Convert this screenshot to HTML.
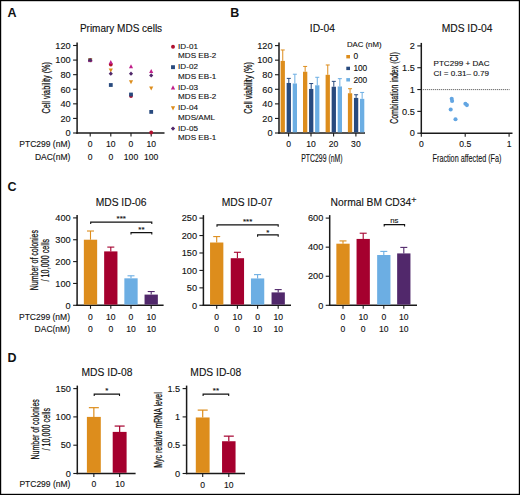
<!DOCTYPE html>
<html><head><meta charset="utf-8"><style>
html,body{margin:0;padding:0;background:#fff;}
svg{display:block;font-family:"Liberation Sans", sans-serif;}
</style></head><body>
<svg width="520" height="495" viewBox="0 0 520 495">
<rect x="0.6" y="0.6" width="518.8" height="493.8" fill="#fff" stroke="#000" stroke-width="1.2"/>
<text x="7.6" y="16.6" font-size="12.5" text-anchor="start" font-weight="bold" fill="#111" stroke="#111" stroke-width="0" >A</text>
<text x="230.2" y="17.0" font-size="12.5" text-anchor="start" font-weight="bold" fill="#111" stroke="#111" stroke-width="0" >B</text>
<text x="7.4" y="191.2" font-size="12.5" text-anchor="start" font-weight="bold" fill="#111" stroke="#111" stroke-width="0" >C</text>
<text x="7.6" y="361.5" font-size="12.5" text-anchor="start" font-weight="bold" fill="#111" stroke="#111" stroke-width="0" >D</text>
<text x="121" y="32.2" font-size="10" text-anchor="middle" font-weight="normal" fill="#111" stroke="#111" stroke-width="0.12" >Primary MDS cells</text>
<line x1="77.1" y1="42.4" x2="77.1" y2="133.7" stroke="#1a1a1a" stroke-width="1.5" />
<line x1="73.1" y1="133.0" x2="77.1" y2="133.0" stroke="#1a1a1a" stroke-width="1.1" />
<text x="70.69999999999999" y="136.266" font-size="9.2" text-anchor="end" font-weight="normal" fill="#111" stroke="#111" stroke-width="0.12" >0</text>
<line x1="73.1" y1="118.41666666666667" x2="77.1" y2="118.41666666666667" stroke="#1a1a1a" stroke-width="1.1" />
<text x="70.69999999999999" y="121.68266666666668" font-size="9.2" text-anchor="end" font-weight="normal" fill="#111" stroke="#111" stroke-width="0.12" >20</text>
<line x1="73.1" y1="103.83333333333333" x2="77.1" y2="103.83333333333333" stroke="#1a1a1a" stroke-width="1.1" />
<text x="70.69999999999999" y="107.09933333333333" font-size="9.2" text-anchor="end" font-weight="normal" fill="#111" stroke="#111" stroke-width="0.12" >40</text>
<line x1="73.1" y1="89.25" x2="77.1" y2="89.25" stroke="#1a1a1a" stroke-width="1.1" />
<text x="70.69999999999999" y="92.516" font-size="9.2" text-anchor="end" font-weight="normal" fill="#111" stroke="#111" stroke-width="0.12" >60</text>
<line x1="73.1" y1="74.66666666666666" x2="77.1" y2="74.66666666666666" stroke="#1a1a1a" stroke-width="1.1" />
<text x="70.69999999999999" y="77.93266666666666" font-size="9.2" text-anchor="end" font-weight="normal" fill="#111" stroke="#111" stroke-width="0.12" >80</text>
<line x1="73.1" y1="60.08333333333333" x2="77.1" y2="60.08333333333333" stroke="#1a1a1a" stroke-width="1.1" />
<text x="70.69999999999999" y="63.34933333333333" font-size="9.2" text-anchor="end" font-weight="normal" fill="#111" stroke="#111" stroke-width="0.12" >100</text>
<line x1="73.1" y1="45.5" x2="77.1" y2="45.5" stroke="#1a1a1a" stroke-width="1.1" />
<text x="70.69999999999999" y="48.766" font-size="9.2" text-anchor="end" font-weight="normal" fill="#111" stroke="#111" stroke-width="0.12" >120</text>
<line x1="76.35" y1="133" x2="164.5" y2="133" stroke="#1a1a1a" stroke-width="1.45" />
<line x1="90.2" y1="133" x2="90.2" y2="136.5" stroke="#1a1a1a" stroke-width="1.1" />
<line x1="110.8" y1="133" x2="110.8" y2="136.5" stroke="#1a1a1a" stroke-width="1.1" />
<line x1="131" y1="133" x2="131" y2="136.5" stroke="#1a1a1a" stroke-width="1.1" />
<line x1="151.2" y1="133" x2="151.2" y2="136.5" stroke="#1a1a1a" stroke-width="1.1" />
<text transform="translate(50.3,87.85) rotate(-90)" x="0" y="0" font-size="11" text-anchor="middle" textLength="51.5" lengthAdjust="spacingAndGlyphs" fill="#111" stroke="#111" stroke-width="0.25">Cell viability (%)</text>
<text x="70.3" y="147.0" font-size="8.5" text-anchor="end" font-weight="normal" fill="#111" stroke="#111" stroke-width="0.12" >PTC299 (nM)</text>
<text x="70.3" y="159.9" font-size="8.5" text-anchor="end" font-weight="normal" fill="#111" stroke="#111" stroke-width="0.12" >DAC(nM)</text>
<text x="90.2" y="147.0" font-size="8.6" text-anchor="middle" font-weight="normal" fill="#111" stroke="#111" stroke-width="0.12" >0</text>
<text x="90.2" y="159.9" font-size="8.6" text-anchor="middle" font-weight="normal" fill="#111" stroke="#111" stroke-width="0.12" >0</text>
<text x="110.8" y="147.0" font-size="8.6" text-anchor="middle" font-weight="normal" fill="#111" stroke="#111" stroke-width="0.12" >10</text>
<text x="110.8" y="159.9" font-size="8.6" text-anchor="middle" font-weight="normal" fill="#111" stroke="#111" stroke-width="0.12" >0</text>
<text x="131" y="147.0" font-size="8.6" text-anchor="middle" font-weight="normal" fill="#111" stroke="#111" stroke-width="0.12" >0</text>
<text x="131" y="159.9" font-size="8.6" text-anchor="middle" font-weight="normal" fill="#111" stroke="#111" stroke-width="0.12" >100</text>
<text x="151.2" y="147.0" font-size="8.6" text-anchor="middle" font-weight="normal" fill="#111" stroke="#111" stroke-width="0.12" >10</text>
<text x="151.2" y="159.9" font-size="8.6" text-anchor="middle" font-weight="normal" fill="#111" stroke="#111" stroke-width="0.12" >100</text>
<circle cx="90.2" cy="60.2" r="1.9" fill="#B0102E"/>
<circle cx="110.8" cy="64.6" r="1.9" fill="#B0102E"/>
<circle cx="131" cy="96.0" r="1.9" fill="#B0102E"/>
<circle cx="151.2" cy="132.5" r="1.9" fill="#B0102E"/>
<rect x="88.3" y="58.300000000000004" width="3.8" height="3.8" fill="#284A7E"/>
<rect x="108.89999999999999" y="83.1" width="3.8" height="3.8" fill="#284A7E"/>
<rect x="129.1" y="92.6" width="3.8" height="3.8" fill="#284A7E"/>
<rect x="149.29999999999998" y="110.0" width="3.8" height="3.8" fill="#284A7E"/>
<path d="M90.2,57.92 L92.29,61.910000000000004 L88.11,61.910000000000004Z" fill="#C0208A"/>
<path d="M110.8,59.92 L112.89,63.910000000000004 L108.71,63.910000000000004Z" fill="#C0208A"/>
<path d="M131,64.22 L133.09,68.21 L128.91,68.21Z" fill="#C0208A"/>
<path d="M151.2,69.02 L153.29,73.00999999999999 L149.10999999999999,73.00999999999999Z" fill="#C0208A"/>
<path d="M90.2,62.480000000000004 L92.29,58.49 L88.11,58.49Z" fill="#DD8D1C"/>
<path d="M110.8,72.58 L112.89,68.59 L108.71,68.59Z" fill="#DD8D1C"/>
<path d="M131,84.28 L133.09,80.29 L128.91,80.29Z" fill="#DD8D1C"/>
<path d="M151.2,90.38 L153.29,86.39 L149.10999999999999,86.39Z" fill="#DD8D1C"/>
<path d="M90.2,58.11 L92.29,60.2 L90.2,62.290000000000006 L88.11,60.2Z" fill="#51286B"/>
<path d="M110.8,71.61 L112.89,73.7 L110.8,75.79 L108.71,73.7Z" fill="#51286B"/>
<path d="M131,71.61 L133.09,73.7 L131,75.79 L128.91,73.7Z" fill="#51286B"/>
<path d="M151.2,73.31 L153.29,75.4 L151.2,77.49000000000001 L149.10999999999999,75.4Z" fill="#51286B"/>
<circle cx="173.0" cy="46.699999999999996" r="1.95" fill="#B0102E"/>
<text x="178.1" y="48.9" font-size="8.1" text-anchor="start" font-weight="normal" fill="#111" stroke="#111" stroke-width="0.12" >ID-01</text>
<text x="178.1" y="58.3" font-size="8.1" text-anchor="start" font-weight="normal" fill="#111" stroke="#111" stroke-width="0.12" >MDS EB-2</text>
<rect x="171.05" y="65.225" width="3.9" height="3.9" fill="#284A7E"/>
<text x="178.1" y="69.375" font-size="8.1" text-anchor="start" font-weight="normal" fill="#111" stroke="#111" stroke-width="0.12" >ID-02</text>
<text x="178.1" y="78.775" font-size="8.1" text-anchor="start" font-weight="normal" fill="#111" stroke="#111" stroke-width="0.12" >MDS EB-1</text>
<path d="M173.0,85.30999999999999 L175.145,89.40499999999999 L170.855,89.40499999999999Z" fill="#C0208A"/>
<text x="178.1" y="89.85" font-size="8.1" text-anchor="start" font-weight="normal" fill="#111" stroke="#111" stroke-width="0.12" >ID-03</text>
<text x="178.1" y="99.25" font-size="8.1" text-anchor="start" font-weight="normal" fill="#111" stroke="#111" stroke-width="0.12" >MDS EB-2</text>
<path d="M173.0,110.465 L175.145,106.37 L170.855,106.37Z" fill="#DD8D1C"/>
<text x="178.1" y="110.325" font-size="8.1" text-anchor="start" font-weight="normal" fill="#111" stroke="#111" stroke-width="0.12" >ID-04</text>
<text x="178.1" y="119.72500000000001" font-size="8.1" text-anchor="start" font-weight="normal" fill="#111" stroke="#111" stroke-width="0.12" >MDS/AML</text>
<path d="M173.0,126.45500000000003 L175.145,128.60000000000002 L173.0,130.74500000000003 L170.855,128.60000000000002Z" fill="#51286B"/>
<text x="178.1" y="130.8" font-size="8.1" text-anchor="start" font-weight="normal" fill="#111" stroke="#111" stroke-width="0.12" >ID-05</text>
<text x="178.1" y="140.20000000000002" font-size="8.1" text-anchor="start" font-weight="normal" fill="#111" stroke="#111" stroke-width="0.12" >MDS EB-1</text>
<text x="322.4" y="31.8" font-size="10.3" text-anchor="middle" font-weight="normal" fill="#111" stroke="#111" stroke-width="0.12" >ID-04</text>
<line x1="279.0" y1="42.4" x2="279.0" y2="133.7" stroke="#1a1a1a" stroke-width="1.5" />
<line x1="275.0" y1="133.0" x2="279.0" y2="133.0" stroke="#1a1a1a" stroke-width="1.1" />
<text x="272.6" y="136.266" font-size="9.2" text-anchor="end" font-weight="normal" fill="#111" stroke="#111" stroke-width="0.12" >0</text>
<line x1="275.0" y1="118.43333333333334" x2="279.0" y2="118.43333333333334" stroke="#1a1a1a" stroke-width="1.1" />
<text x="272.6" y="121.69933333333334" font-size="9.2" text-anchor="end" font-weight="normal" fill="#111" stroke="#111" stroke-width="0.12" >20</text>
<line x1="275.0" y1="103.86666666666667" x2="279.0" y2="103.86666666666667" stroke="#1a1a1a" stroke-width="1.1" />
<text x="272.6" y="107.13266666666668" font-size="9.2" text-anchor="end" font-weight="normal" fill="#111" stroke="#111" stroke-width="0.12" >40</text>
<line x1="275.0" y1="89.3" x2="279.0" y2="89.3" stroke="#1a1a1a" stroke-width="1.1" />
<text x="272.6" y="92.566" font-size="9.2" text-anchor="end" font-weight="normal" fill="#111" stroke="#111" stroke-width="0.12" >60</text>
<line x1="275.0" y1="74.73333333333333" x2="279.0" y2="74.73333333333333" stroke="#1a1a1a" stroke-width="1.1" />
<text x="272.6" y="77.99933333333334" font-size="9.2" text-anchor="end" font-weight="normal" fill="#111" stroke="#111" stroke-width="0.12" >80</text>
<line x1="275.0" y1="60.16666666666667" x2="279.0" y2="60.16666666666667" stroke="#1a1a1a" stroke-width="1.1" />
<text x="272.6" y="63.43266666666667" font-size="9.2" text-anchor="end" font-weight="normal" fill="#111" stroke="#111" stroke-width="0.12" >100</text>
<line x1="275.0" y1="45.599999999999994" x2="279.0" y2="45.599999999999994" stroke="#1a1a1a" stroke-width="1.1" />
<text x="272.6" y="48.86599999999999" font-size="9.2" text-anchor="end" font-weight="normal" fill="#111" stroke="#111" stroke-width="0.12" >120</text>
<line x1="278.25" y1="133" x2="365" y2="133" stroke="#1a1a1a" stroke-width="1.45" />
<line x1="288.6" y1="133" x2="288.6" y2="136.5" stroke="#1a1a1a" stroke-width="1.1" />
<line x1="311.0" y1="133" x2="311.0" y2="136.5" stroke="#1a1a1a" stroke-width="1.1" />
<line x1="333.6" y1="133" x2="333.6" y2="136.5" stroke="#1a1a1a" stroke-width="1.1" />
<line x1="355.9" y1="133" x2="355.9" y2="136.5" stroke="#1a1a1a" stroke-width="1.1" />
<text transform="translate(251.7,88.0) rotate(-90)" x="0" y="0" font-size="11" text-anchor="middle" textLength="51.7" lengthAdjust="spacingAndGlyphs" fill="#111" stroke="#111" stroke-width="0.25">Cell viability (%)</text>
<text x="288.6" y="146.9" font-size="8.6" text-anchor="middle" font-weight="normal" fill="#111" stroke="#111" stroke-width="0.12" >0</text>
<text x="311.0" y="146.9" font-size="8.6" text-anchor="middle" font-weight="normal" fill="#111" stroke="#111" stroke-width="0.12" >10</text>
<text x="333.6" y="146.9" font-size="8.6" text-anchor="middle" font-weight="normal" fill="#111" stroke="#111" stroke-width="0.12" >20</text>
<text x="355.9" y="146.9" font-size="8.6" text-anchor="middle" font-weight="normal" fill="#111" stroke="#111" stroke-width="0.12" >30</text>
<text x="321.9" y="161.6" font-size="10.3" text-anchor="middle" font-weight="normal" fill="#111" stroke="#111" stroke-width="0.12" textLength="41.3" lengthAdjust="spacingAndGlyphs">PTC299 (nM)</text>
<rect x="280.6" y="60.894999999999996" width="4.3" height="71.40500000000002" fill="#DD8D1C"/>
<line x1="282.75" y1="60.894999999999996" x2="282.75" y2="49.97" stroke="#DD8D1C" stroke-width="1.0" />
<line x1="280.75" y1="49.97" x2="284.75" y2="49.97" stroke="#DD8D1C" stroke-width="1.0" />
<rect x="286.65000000000003" y="82.96349999999998" width="4.3" height="49.33650000000003" fill="#284A7E"/>
<line x1="288.8" y1="82.96349999999998" x2="288.8" y2="78.375" stroke="#284A7E" stroke-width="1.0" />
<line x1="286.8" y1="78.375" x2="290.8" y2="78.375" stroke="#284A7E" stroke-width="1.0" />
<rect x="292.70000000000005" y="83.47333333333333" width="4.3" height="48.82666666666668" fill="#6CAEE3"/>
<line x1="294.85" y1="83.47333333333333" x2="294.85" y2="74.2235" stroke="#6CAEE3" stroke-width="1.0" />
<line x1="292.85" y1="74.2235" x2="296.85" y2="74.2235" stroke="#6CAEE3" stroke-width="1.0" />
<rect x="303.0" y="71.74716666666666" width="4.3" height="60.55283333333335" fill="#DD8D1C"/>
<line x1="305.15" y1="71.74716666666666" x2="305.15" y2="66.43033333333332" stroke="#DD8D1C" stroke-width="1.0" />
<line x1="303.15" y1="66.43033333333332" x2="307.15" y2="66.43033333333332" stroke="#DD8D1C" stroke-width="1.0" />
<rect x="309.05" y="88.93583333333333" width="4.3" height="43.36416666666668" fill="#284A7E"/>
<line x1="311.2" y1="88.93583333333333" x2="311.2" y2="83.54616666666666" stroke="#284A7E" stroke-width="1.0" />
<line x1="309.2" y1="83.54616666666666" x2="313.2" y2="83.54616666666666" stroke="#284A7E" stroke-width="1.0" />
<rect x="315.1" y="85.29416666666665" width="4.3" height="47.00583333333336" fill="#6CAEE3"/>
<line x1="317.25" y1="85.29416666666665" x2="317.25" y2="77.2825" stroke="#6CAEE3" stroke-width="1.0" />
<line x1="315.25" y1="77.2825" x2="319.25" y2="77.2825" stroke="#6CAEE3" stroke-width="1.0" />
<rect x="325.6" y="74.80616666666666" width="4.3" height="57.493833333333356" fill="#DD8D1C"/>
<line x1="327.75" y1="74.80616666666666" x2="327.75" y2="64.97366666666666" stroke="#DD8D1C" stroke-width="1.0" />
<line x1="325.75" y1="64.97366666666666" x2="329.75" y2="64.97366666666666" stroke="#DD8D1C" stroke-width="1.0" />
<rect x="331.65000000000003" y="86.75083333333333" width="4.3" height="45.54916666666668" fill="#284A7E"/>
<line x1="333.8" y1="86.75083333333333" x2="333.8" y2="81.36116666666666" stroke="#284A7E" stroke-width="1.0" />
<line x1="331.8" y1="81.36116666666666" x2="335.8" y2="81.36116666666666" stroke="#284A7E" stroke-width="1.0" />
<rect x="337.70000000000005" y="86.45949999999999" width="4.3" height="45.84050000000002" fill="#6CAEE3"/>
<line x1="339.85" y1="86.45949999999999" x2="339.85" y2="78.66633333333334" stroke="#6CAEE3" stroke-width="1.0" />
<line x1="337.85" y1="78.66633333333334" x2="341.85" y2="78.66633333333334" stroke="#6CAEE3" stroke-width="1.0" />
<rect x="347.9" y="93.23299999999999" width="4.3" height="39.06700000000002" fill="#DD8D1C"/>
<line x1="350.04999999999995" y1="93.23299999999999" x2="350.04999999999995" y2="88.71733333333333" stroke="#DD8D1C" stroke-width="1.0" />
<line x1="348.04999999999995" y1="88.71733333333333" x2="352.04999999999995" y2="88.71733333333333" stroke="#DD8D1C" stroke-width="1.0" />
<rect x="353.95" y="97.89433333333332" width="4.3" height="34.40566666666669" fill="#284A7E"/>
<line x1="356.09999999999997" y1="97.89433333333332" x2="356.09999999999997" y2="94.7625" stroke="#284A7E" stroke-width="1.0" />
<line x1="354.09999999999997" y1="94.7625" x2="358.09999999999997" y2="94.7625" stroke="#284A7E" stroke-width="1.0" />
<rect x="360.0" y="98.84116666666667" width="4.3" height="33.458833333333345" fill="#6CAEE3"/>
<line x1="362.15" y1="98.84116666666667" x2="362.15" y2="92.43183333333333" stroke="#6CAEE3" stroke-width="1.0" />
<line x1="360.15" y1="92.43183333333333" x2="364.15" y2="92.43183333333333" stroke="#6CAEE3" stroke-width="1.0" />
<text x="346.9" y="47.2" font-size="7.8" text-anchor="start" font-weight="normal" fill="#111" stroke="#111" stroke-width="0.12" >DAC (nM)</text>
<rect x="346.3" y="55.0" width="3.7" height="3.4" fill="#DD8D1C"/>
<text x="353.4" y="59.400000000000006" font-size="8.3" text-anchor="start" font-weight="normal" fill="#111" stroke="#111" stroke-width="0.12" >0</text>
<rect x="346.3" y="66.7" width="3.7" height="3.4" fill="#284A7E"/>
<text x="353.4" y="71.10000000000001" font-size="8.3" text-anchor="start" font-weight="normal" fill="#111" stroke="#111" stroke-width="0.12" >100</text>
<rect x="346.3" y="78.1" width="3.7" height="3.4" fill="#6CAEE3"/>
<text x="353.4" y="82.5" font-size="8.3" text-anchor="start" font-weight="normal" fill="#111" stroke="#111" stroke-width="0.12" >200</text>
<text x="467.1" y="31.9" font-size="10.3" text-anchor="middle" font-weight="normal" fill="#111" stroke="#111" stroke-width="0.12" >MDS ID-04</text>
<line x1="421.3" y1="42.9" x2="421.3" y2="133.89999999999998" stroke="#1a1a1a" stroke-width="1.5" />
<line x1="417.3" y1="133.2" x2="421.3" y2="133.2" stroke="#1a1a1a" stroke-width="1.1" />
<text x="414.90000000000003" y="136.46599999999998" font-size="9.2" text-anchor="end" font-weight="normal" fill="#111" stroke="#111" stroke-width="0.12" >0</text>
<line x1="417.3" y1="111.375" x2="421.3" y2="111.375" stroke="#1a1a1a" stroke-width="1.1" />
<text x="414.90000000000003" y="114.641" font-size="9.2" text-anchor="end" font-weight="normal" fill="#111" stroke="#111" stroke-width="0.12" >0.5</text>
<line x1="417.3" y1="89.55" x2="421.3" y2="89.55" stroke="#1a1a1a" stroke-width="1.1" />
<text x="414.90000000000003" y="92.816" font-size="9.2" text-anchor="end" font-weight="normal" fill="#111" stroke="#111" stroke-width="0.12" >1</text>
<line x1="417.3" y1="67.725" x2="421.3" y2="67.725" stroke="#1a1a1a" stroke-width="1.1" />
<text x="414.90000000000003" y="70.991" font-size="9.2" text-anchor="end" font-weight="normal" fill="#111" stroke="#111" stroke-width="0.12" >1.5</text>
<line x1="417.3" y1="45.900000000000006" x2="421.3" y2="45.900000000000006" stroke="#1a1a1a" stroke-width="1.1" />
<text x="414.90000000000003" y="49.166000000000004" font-size="9.2" text-anchor="end" font-weight="normal" fill="#111" stroke="#111" stroke-width="0.12" >2</text>
<line x1="420.55" y1="133.2" x2="512.5" y2="133.2" stroke="#1a1a1a" stroke-width="1.45" />
<line x1="421.3" y1="133.2" x2="421.3" y2="136.7" stroke="#1a1a1a" stroke-width="1.1" />
<line x1="465.20000000000005" y1="133.2" x2="465.20000000000005" y2="136.7" stroke="#1a1a1a" stroke-width="1.1" />
<line x1="509.1" y1="133.2" x2="509.1" y2="136.7" stroke="#1a1a1a" stroke-width="1.1" />
<text x="421.3" y="146.9" font-size="8.6" text-anchor="middle" font-weight="normal" fill="#111" stroke="#111" stroke-width="0.12" >0</text>
<text x="465.20000000000005" y="146.9" font-size="8.6" text-anchor="middle" font-weight="normal" fill="#111" stroke="#111" stroke-width="0.12" >0.5</text>
<text x="509.1" y="146.9" font-size="8.6" text-anchor="middle" font-weight="normal" fill="#111" stroke="#111" stroke-width="0.12" >1</text>
<line x1="422.8" y1="89.6" x2="509.5" y2="89.6" stroke="#333" stroke-width="0.9" stroke-dasharray="1,1"/>
<text x="433.5" y="66" font-size="8.1" text-anchor="start" font-weight="normal" fill="#111" stroke="#111" stroke-width="0.12" >PTC299 + DAC</text>
<text x="433.5" y="76.2" font-size="8.1" text-anchor="start" font-weight="normal" fill="#111" stroke="#111" stroke-width="0.12" >CI = 0.31– 0.79</text>
<circle cx="451.7" cy="98.7" r="2.05" fill="#62A5E2"/>
<circle cx="452.1" cy="101" r="2.05" fill="#62A5E2"/>
<circle cx="450.7" cy="109.5" r="2.05" fill="#62A5E2"/>
<circle cx="455.5" cy="119.3" r="2.05" fill="#62A5E2"/>
<circle cx="465.4" cy="103.8" r="2.05" fill="#62A5E2"/>
<circle cx="466.9" cy="105.1" r="2.05" fill="#62A5E2"/>
<text transform="translate(397.8,88.0) rotate(-90)" x="0" y="0" font-size="10.0" text-anchor="middle" textLength="71.7" lengthAdjust="spacingAndGlyphs" fill="#111" stroke="#111" stroke-width="0.25">Combination index (CI)</text>
<text x="467.0" y="161.6" font-size="10.5" text-anchor="middle" font-weight="normal" fill="#111" stroke="#111" stroke-width="0.12" textLength="68.8" lengthAdjust="spacingAndGlyphs">Fraction affected (Fa)</text>
<text x="121.1" y="206.0" font-size="10.3" text-anchor="middle" font-weight="normal" fill="#111" stroke="#111" stroke-width="0.12" >MDS ID-06</text>
<line x1="77.1" y1="214.9" x2="77.1" y2="306.0" stroke="#1a1a1a" stroke-width="1.5" />
<line x1="73.1" y1="305.3" x2="77.1" y2="305.3" stroke="#1a1a1a" stroke-width="1.1" />
<text x="70.69999999999999" y="308.56600000000003" font-size="9.2" text-anchor="end" font-weight="normal" fill="#111" stroke="#111" stroke-width="0.12" >0</text>
<line x1="73.1" y1="283.45" x2="77.1" y2="283.45" stroke="#1a1a1a" stroke-width="1.1" />
<text x="70.69999999999999" y="286.716" font-size="9.2" text-anchor="end" font-weight="normal" fill="#111" stroke="#111" stroke-width="0.12" >100</text>
<line x1="73.1" y1="261.6" x2="77.1" y2="261.6" stroke="#1a1a1a" stroke-width="1.1" />
<text x="70.69999999999999" y="264.86600000000004" font-size="9.2" text-anchor="end" font-weight="normal" fill="#111" stroke="#111" stroke-width="0.12" >200</text>
<line x1="73.1" y1="239.75" x2="77.1" y2="239.75" stroke="#1a1a1a" stroke-width="1.1" />
<text x="70.69999999999999" y="243.016" font-size="9.2" text-anchor="end" font-weight="normal" fill="#111" stroke="#111" stroke-width="0.12" >300</text>
<line x1="73.1" y1="217.9" x2="77.1" y2="217.9" stroke="#1a1a1a" stroke-width="1.1" />
<text x="70.69999999999999" y="221.166" font-size="9.2" text-anchor="end" font-weight="normal" fill="#111" stroke="#111" stroke-width="0.12" >400</text>
<line x1="76.35" y1="305.3" x2="163.6" y2="305.3" stroke="#1a1a1a" stroke-width="1.45" />
<line x1="90.5" y1="305.3" x2="90.5" y2="308.8" stroke="#1a1a1a" stroke-width="1.1" />
<line x1="110.8" y1="305.3" x2="110.8" y2="308.8" stroke="#1a1a1a" stroke-width="1.1" />
<line x1="131.0" y1="305.3" x2="131.0" y2="308.8" stroke="#1a1a1a" stroke-width="1.1" />
<line x1="151.2" y1="305.3" x2="151.2" y2="308.8" stroke="#1a1a1a" stroke-width="1.1" />
<rect x="83.85" y="239.7063" width="13.3" height="64.89370000000002" fill="#DD8D1C"/>
<line x1="90.5" y1="239.7063" x2="90.5" y2="231.01" stroke="#DD8D1C" stroke-width="1.1" />
<line x1="87.0" y1="231.01" x2="94.0" y2="231.01" stroke="#DD8D1C" stroke-width="1.1" />
<rect x="104.14999999999999" y="251.39605" width="13.3" height="53.20395000000002" fill="#A5002E"/>
<line x1="110.8" y1="251.39605" x2="110.8" y2="247.0916" stroke="#A5002E" stroke-width="1.1" />
<line x1="107.3" y1="247.0916" x2="114.3" y2="247.0916" stroke="#A5002E" stroke-width="1.1" />
<rect x="124.35" y="278.31525" width="13.3" height="26.28475000000003" fill="#6CAEE3"/>
<line x1="131.0" y1="278.31525" x2="131.0" y2="275.8025" stroke="#6CAEE3" stroke-width="1.1" />
<line x1="127.5" y1="275.8025" x2="134.5" y2="275.8025" stroke="#6CAEE3" stroke-width="1.1" />
<rect x="144.54999999999998" y="294.5935" width="13.3" height="10.006500000000017" fill="#51286B"/>
<line x1="151.2" y1="294.5935" x2="151.2" y2="291.53450000000004" stroke="#51286B" stroke-width="1.1" />
<line x1="147.7" y1="291.53450000000004" x2="154.7" y2="291.53450000000004" stroke="#51286B" stroke-width="1.1" />
<path d="M90.7,223.9 V222.1 H151.8 V223.9" fill="none" stroke="#111" stroke-width="1.1"/>
<text x="121.25" y="221.3" font-size="8" text-anchor="middle" font-weight="normal" fill="#111" stroke="#111" stroke-width="0.12" >***</text>
<path d="M131,234.4 V232.6 H151.8 V234.4" fill="none" stroke="#111" stroke-width="1.1"/>
<text x="141.4" y="231.8" font-size="8" text-anchor="middle" font-weight="normal" fill="#111" stroke="#111" stroke-width="0.12" >**</text>
<text x="90.5" y="319.6" font-size="8.6" text-anchor="middle" font-weight="normal" fill="#111" stroke="#111" stroke-width="0.12" >0</text>
<text x="90.5" y="331.6" font-size="8.6" text-anchor="middle" font-weight="normal" fill="#111" stroke="#111" stroke-width="0.12" >0</text>
<text x="110.8" y="319.6" font-size="8.6" text-anchor="middle" font-weight="normal" fill="#111" stroke="#111" stroke-width="0.12" >10</text>
<text x="110.8" y="331.6" font-size="8.6" text-anchor="middle" font-weight="normal" fill="#111" stroke="#111" stroke-width="0.12" >0</text>
<text x="131.0" y="319.6" font-size="8.6" text-anchor="middle" font-weight="normal" fill="#111" stroke="#111" stroke-width="0.12" >0</text>
<text x="131.0" y="331.6" font-size="8.6" text-anchor="middle" font-weight="normal" fill="#111" stroke="#111" stroke-width="0.12" >10</text>
<text x="151.2" y="319.6" font-size="8.6" text-anchor="middle" font-weight="normal" fill="#111" stroke="#111" stroke-width="0.12" >10</text>
<text x="151.2" y="331.6" font-size="8.6" text-anchor="middle" font-weight="normal" fill="#111" stroke="#111" stroke-width="0.12" >10</text>
<text x="70" y="319.6" font-size="8.5" text-anchor="end" font-weight="normal" fill="#111" stroke="#111" stroke-width="0.12" >PTC299 (nM)</text>
<text x="70" y="331.6" font-size="8.5" text-anchor="end" font-weight="normal" fill="#111" stroke="#111" stroke-width="0.12" >DAC(nM)</text>
<text transform="translate(38.0,260.15) rotate(-90)" x="0" y="0" font-size="11" text-anchor="middle" textLength="60.1" lengthAdjust="spacingAndGlyphs" fill="#111" stroke="#111" stroke-width="0.25">Number of colonies</text>
<text transform="translate(49.3,260.15) rotate(-90)" x="0" y="0" font-size="11" text-anchor="middle" textLength="42.5" lengthAdjust="spacingAndGlyphs" fill="#111" stroke="#111" stroke-width="0.25">/ 10,000 cells</text>
<text x="247.1" y="206.0" font-size="10.3" text-anchor="middle" font-weight="normal" fill="#111" stroke="#111" stroke-width="0.12" >MDS ID-07</text>
<line x1="203.4" y1="215.1" x2="203.4" y2="306.0" stroke="#1a1a1a" stroke-width="1.5" />
<line x1="199.4" y1="305.3" x2="203.4" y2="305.3" stroke="#1a1a1a" stroke-width="1.1" />
<text x="197.0" y="308.56600000000003" font-size="9.2" text-anchor="end" font-weight="normal" fill="#111" stroke="#111" stroke-width="0.12" >0</text>
<line x1="199.4" y1="287.86" x2="203.4" y2="287.86" stroke="#1a1a1a" stroke-width="1.1" />
<text x="197.0" y="291.12600000000003" font-size="9.2" text-anchor="end" font-weight="normal" fill="#111" stroke="#111" stroke-width="0.12" >50</text>
<line x1="199.4" y1="270.42" x2="203.4" y2="270.42" stroke="#1a1a1a" stroke-width="1.1" />
<text x="197.0" y="273.68600000000004" font-size="9.2" text-anchor="end" font-weight="normal" fill="#111" stroke="#111" stroke-width="0.12" >100</text>
<line x1="199.4" y1="252.98000000000002" x2="203.4" y2="252.98000000000002" stroke="#1a1a1a" stroke-width="1.1" />
<text x="197.0" y="256.24600000000004" font-size="9.2" text-anchor="end" font-weight="normal" fill="#111" stroke="#111" stroke-width="0.12" >150</text>
<line x1="199.4" y1="235.54" x2="203.4" y2="235.54" stroke="#1a1a1a" stroke-width="1.1" />
<text x="197.0" y="238.80599999999998" font-size="9.2" text-anchor="end" font-weight="normal" fill="#111" stroke="#111" stroke-width="0.12" >200</text>
<line x1="199.4" y1="218.1" x2="203.4" y2="218.1" stroke="#1a1a1a" stroke-width="1.1" />
<text x="197.0" y="221.36599999999999" font-size="9.2" text-anchor="end" font-weight="normal" fill="#111" stroke="#111" stroke-width="0.12" >250</text>
<line x1="202.65" y1="305.3" x2="291" y2="305.3" stroke="#1a1a1a" stroke-width="1.45" />
<line x1="216.7" y1="305.3" x2="216.7" y2="308.8" stroke="#1a1a1a" stroke-width="1.1" />
<line x1="237.4" y1="305.3" x2="237.4" y2="308.8" stroke="#1a1a1a" stroke-width="1.1" />
<line x1="257.6" y1="305.3" x2="257.6" y2="308.8" stroke="#1a1a1a" stroke-width="1.1" />
<line x1="278.2" y1="305.3" x2="278.2" y2="308.8" stroke="#1a1a1a" stroke-width="1.1" />
<rect x="210.04999999999998" y="242.516" width="13.3" height="62.08400000000003" fill="#DD8D1C"/>
<line x1="216.7" y1="242.516" x2="216.7" y2="236.5864" stroke="#DD8D1C" stroke-width="1.1" />
<line x1="213.2" y1="236.5864" x2="220.2" y2="236.5864" stroke="#DD8D1C" stroke-width="1.1" />
<rect x="230.75" y="258.212" width="13.3" height="46.388000000000034" fill="#A5002E"/>
<line x1="237.4" y1="258.212" x2="237.4" y2="252.2824" stroke="#A5002E" stroke-width="1.1" />
<line x1="233.9" y1="252.2824" x2="240.9" y2="252.2824" stroke="#A5002E" stroke-width="1.1" />
<rect x="250.95000000000002" y="278.4424" width="13.3" height="26.157600000000002" fill="#6CAEE3"/>
<line x1="257.6" y1="278.4424" x2="257.6" y2="274.6056" stroke="#6CAEE3" stroke-width="1.1" />
<line x1="254.10000000000002" y1="274.6056" x2="261.1" y2="274.6056" stroke="#6CAEE3" stroke-width="1.1" />
<rect x="271.55" y="292.3944" width="13.3" height="12.205600000000004" fill="#51286B"/>
<line x1="278.2" y1="292.3944" x2="278.2" y2="289.604" stroke="#51286B" stroke-width="1.1" />
<line x1="274.7" y1="289.604" x2="281.7" y2="289.604" stroke="#51286B" stroke-width="1.1" />
<path d="M217,226.70000000000002 V224.9 H278.2 V226.70000000000002" fill="none" stroke="#111" stroke-width="1.1"/>
<text x="247.6" y="224.2" font-size="8" text-anchor="middle" font-weight="normal" fill="#111" stroke="#111" stroke-width="0.12" >***</text>
<path d="M257.6,236.70000000000002 V234.9 H278.2 V236.70000000000002" fill="none" stroke="#111" stroke-width="1.1"/>
<text x="267.9" y="235.0" font-size="8" text-anchor="middle" font-weight="normal" fill="#111" stroke="#111" stroke-width="0.12" >*</text>
<text x="216.7" y="319.6" font-size="8.6" text-anchor="middle" font-weight="normal" fill="#111" stroke="#111" stroke-width="0.12" >0</text>
<text x="216.7" y="331.6" font-size="8.6" text-anchor="middle" font-weight="normal" fill="#111" stroke="#111" stroke-width="0.12" >0</text>
<text x="237.4" y="319.6" font-size="8.6" text-anchor="middle" font-weight="normal" fill="#111" stroke="#111" stroke-width="0.12" >10</text>
<text x="237.4" y="331.6" font-size="8.6" text-anchor="middle" font-weight="normal" fill="#111" stroke="#111" stroke-width="0.12" >0</text>
<text x="257.6" y="319.6" font-size="8.6" text-anchor="middle" font-weight="normal" fill="#111" stroke="#111" stroke-width="0.12" >0</text>
<text x="257.6" y="331.6" font-size="8.6" text-anchor="middle" font-weight="normal" fill="#111" stroke="#111" stroke-width="0.12" >10</text>
<text x="278.2" y="319.6" font-size="8.6" text-anchor="middle" font-weight="normal" fill="#111" stroke="#111" stroke-width="0.12" >10</text>
<text x="278.2" y="331.6" font-size="8.6" text-anchor="middle" font-weight="normal" fill="#111" stroke="#111" stroke-width="0.12" >10</text>
<text x="370.9" y="206.0" font-size="10.3" text-anchor="middle" font-weight="normal" fill="#111" stroke="#111" stroke-width="0.12" >Normal BM CD34</text>
<line x1="329.7" y1="215.1" x2="329.7" y2="306.0" stroke="#1a1a1a" stroke-width="1.5" />
<line x1="325.7" y1="305.3" x2="329.7" y2="305.3" stroke="#1a1a1a" stroke-width="1.1" />
<text x="323.3" y="308.56600000000003" font-size="9.2" text-anchor="end" font-weight="normal" fill="#111" stroke="#111" stroke-width="0.12" >0</text>
<line x1="325.7" y1="276.23333333333335" x2="329.7" y2="276.23333333333335" stroke="#1a1a1a" stroke-width="1.1" />
<text x="323.3" y="279.49933333333337" font-size="9.2" text-anchor="end" font-weight="normal" fill="#111" stroke="#111" stroke-width="0.12" >200</text>
<line x1="325.7" y1="247.16666666666666" x2="329.7" y2="247.16666666666666" stroke="#1a1a1a" stroke-width="1.1" />
<text x="323.3" y="250.43266666666665" font-size="9.2" text-anchor="end" font-weight="normal" fill="#111" stroke="#111" stroke-width="0.12" >400</text>
<line x1="325.7" y1="218.1" x2="329.7" y2="218.1" stroke="#1a1a1a" stroke-width="1.1" />
<text x="323.3" y="221.36599999999999" font-size="9.2" text-anchor="end" font-weight="normal" fill="#111" stroke="#111" stroke-width="0.12" >600</text>
<line x1="328.95" y1="305.3" x2="417" y2="305.3" stroke="#1a1a1a" stroke-width="1.45" />
<line x1="343" y1="305.3" x2="343" y2="308.8" stroke="#1a1a1a" stroke-width="1.1" />
<line x1="363.2" y1="305.3" x2="363.2" y2="308.8" stroke="#1a1a1a" stroke-width="1.1" />
<line x1="383.8" y1="305.3" x2="383.8" y2="308.8" stroke="#1a1a1a" stroke-width="1.1" />
<line x1="403.8" y1="305.3" x2="403.8" y2="308.8" stroke="#1a1a1a" stroke-width="1.1" />
<rect x="336.35" y="243.69320000000002" width="13.3" height="60.906800000000004" fill="#DD8D1C"/>
<line x1="343" y1="243.69320000000002" x2="343" y2="240.91733333333332" stroke="#DD8D1C" stroke-width="1.1" />
<line x1="339.5" y1="240.91733333333332" x2="346.5" y2="240.91733333333332" stroke="#DD8D1C" stroke-width="1.1" />
<rect x="356.55" y="238.92626666666666" width="13.3" height="65.67373333333336" fill="#A5002E"/>
<line x1="363.2" y1="238.92626666666666" x2="363.2" y2="233.21466666666666" stroke="#A5002E" stroke-width="1.1" />
<line x1="359.7" y1="233.21466666666666" x2="366.7" y2="233.21466666666666" stroke="#A5002E" stroke-width="1.1" />
<rect x="377.15000000000003" y="255.01466666666667" width="13.3" height="49.58533333333335" fill="#6CAEE3"/>
<line x1="383.8" y1="255.01466666666667" x2="383.8" y2="251.39586666666668" stroke="#6CAEE3" stroke-width="1.1" />
<line x1="380.3" y1="251.39586666666668" x2="387.3" y2="251.39586666666668" stroke="#6CAEE3" stroke-width="1.1" />
<rect x="397.15000000000003" y="253.416" width="13.3" height="51.184000000000026" fill="#51286B"/>
<line x1="403.8" y1="253.416" x2="403.8" y2="247.3992" stroke="#51286B" stroke-width="1.1" />
<line x1="400.3" y1="247.3992" x2="407.3" y2="247.3992" stroke="#51286B" stroke-width="1.1" />
<path d="M384.2,226.4 V224.6 H404.6 V226.4" fill="none" stroke="#111" stroke-width="1.1"/>
<text x="394.4" y="222.6" font-size="7.8" text-anchor="middle" font-weight="normal" fill="#111" stroke="#111" stroke-width="0.12" >ns</text>
<text x="343" y="319.6" font-size="8.6" text-anchor="middle" font-weight="normal" fill="#111" stroke="#111" stroke-width="0.12" >0</text>
<text x="343" y="331.6" font-size="8.6" text-anchor="middle" font-weight="normal" fill="#111" stroke="#111" stroke-width="0.12" >0</text>
<text x="363.2" y="319.6" font-size="8.6" text-anchor="middle" font-weight="normal" fill="#111" stroke="#111" stroke-width="0.12" >10</text>
<text x="363.2" y="331.6" font-size="8.6" text-anchor="middle" font-weight="normal" fill="#111" stroke="#111" stroke-width="0.12" >0</text>
<text x="383.8" y="319.6" font-size="8.6" text-anchor="middle" font-weight="normal" fill="#111" stroke="#111" stroke-width="0.12" >0</text>
<text x="383.8" y="331.6" font-size="8.6" text-anchor="middle" font-weight="normal" fill="#111" stroke="#111" stroke-width="0.12" >10</text>
<text x="403.8" y="319.6" font-size="8.6" text-anchor="middle" font-weight="normal" fill="#111" stroke="#111" stroke-width="0.12" >10</text>
<text x="403.8" y="331.6" font-size="8.6" text-anchor="middle" font-weight="normal" fill="#111" stroke="#111" stroke-width="0.12" >10</text>
<text x="414.0" y="203.1" font-size="9" text-anchor="middle" font-weight="normal" fill="#111" stroke="#111" stroke-width="0.12" >+</text>
<text x="107.0" y="376.3" font-size="10.3" text-anchor="middle" font-weight="normal" fill="#111" stroke="#111" stroke-width="0.12" >MDS ID-08</text>
<line x1="77.3" y1="385.6" x2="77.3" y2="474.2" stroke="#1a1a1a" stroke-width="1.5" />
<line x1="73.3" y1="473.5" x2="77.3" y2="473.5" stroke="#1a1a1a" stroke-width="1.1" />
<text x="70.89999999999999" y="476.766" font-size="9.2" text-anchor="end" font-weight="normal" fill="#111" stroke="#111" stroke-width="0.12" >0</text>
<line x1="73.3" y1="445.2" x2="77.3" y2="445.2" stroke="#1a1a1a" stroke-width="1.1" />
<text x="70.89999999999999" y="448.466" font-size="9.2" text-anchor="end" font-weight="normal" fill="#111" stroke="#111" stroke-width="0.12" >50</text>
<line x1="73.3" y1="416.90000000000003" x2="77.3" y2="416.90000000000003" stroke="#1a1a1a" stroke-width="1.1" />
<text x="70.89999999999999" y="420.16600000000005" font-size="9.2" text-anchor="end" font-weight="normal" fill="#111" stroke="#111" stroke-width="0.12" >100</text>
<line x1="73.3" y1="388.6" x2="77.3" y2="388.6" stroke="#1a1a1a" stroke-width="1.1" />
<text x="70.89999999999999" y="391.86600000000004" font-size="9.2" text-anchor="end" font-weight="normal" fill="#111" stroke="#111" stroke-width="0.12" >150</text>
<line x1="76.55" y1="473.5" x2="135.6" y2="473.5" stroke="#1a1a1a" stroke-width="1.45" />
<line x1="93.85" y1="473.5" x2="93.85" y2="477.0" stroke="#1a1a1a" stroke-width="1.1" />
<line x1="119.65" y1="473.5" x2="119.65" y2="477.0" stroke="#1a1a1a" stroke-width="1.1" />
<rect x="86.89999999999999" y="416.90000000000003" width="13.9" height="55.89999999999998" fill="#DD8D1C"/>
<line x1="93.85" y1="416.90000000000003" x2="93.85" y2="407.67420000000004" stroke="#DD8D1C" stroke-width="1.2" />
<line x1="88.85" y1="407.67420000000004" x2="98.85" y2="407.67420000000004" stroke="#DD8D1C" stroke-width="1.2" />
<rect x="112.7" y="431.899" width="13.9" height="40.90100000000001" fill="#A5002E"/>
<line x1="119.65" y1="431.899" x2="119.65" y2="426.0692" stroke="#A5002E" stroke-width="1.2" />
<line x1="114.65" y1="426.0692" x2="124.65" y2="426.0692" stroke="#A5002E" stroke-width="1.2" />
<path d="M94.2,395.90000000000003 V394.1 H119.5 V395.90000000000003" fill="none" stroke="#111" stroke-width="1.1"/>
<text x="106.85" y="393.2" font-size="8" text-anchor="middle" font-weight="normal" fill="#111" stroke="#111" stroke-width="0.12" >*</text>
<text x="94.0" y="487.4" font-size="8.6" text-anchor="middle" font-weight="normal" fill="#111" stroke="#111" stroke-width="0.12" >0</text>
<text x="120.1" y="487.4" font-size="8.6" text-anchor="middle" font-weight="normal" fill="#111" stroke="#111" stroke-width="0.12" >10</text>
<text x="70.4" y="487.4" font-size="8.5" text-anchor="end" font-weight="normal" fill="#111" stroke="#111" stroke-width="0.12" >PTC299 (nM)</text>
<text transform="translate(38.6,429.35) rotate(-90)" x="0" y="0" font-size="11" text-anchor="middle" textLength="60.3" lengthAdjust="spacingAndGlyphs" fill="#111" stroke="#111" stroke-width="0.25">Number of colonies</text>
<text transform="translate(50.0,429.25) rotate(-90)" x="0" y="0" font-size="11" text-anchor="middle" textLength="42.5" lengthAdjust="spacingAndGlyphs" fill="#111" stroke="#111" stroke-width="0.25">/ 10,000 cells</text>
<text x="215.8" y="376.3" font-size="10.3" text-anchor="middle" font-weight="normal" fill="#111" stroke="#111" stroke-width="0.12" >MDS ID-08</text>
<line x1="186.6" y1="385.6" x2="186.6" y2="474.2" stroke="#1a1a1a" stroke-width="1.5" />
<line x1="182.6" y1="473.5" x2="186.6" y2="473.5" stroke="#1a1a1a" stroke-width="1.1" />
<text x="180.2" y="476.766" font-size="9.2" text-anchor="end" font-weight="normal" fill="#111" stroke="#111" stroke-width="0.12" >0</text>
<line x1="182.6" y1="445.2" x2="186.6" y2="445.2" stroke="#1a1a1a" stroke-width="1.1" />
<text x="180.2" y="448.466" font-size="9.2" text-anchor="end" font-weight="normal" fill="#111" stroke="#111" stroke-width="0.12" >0.5</text>
<line x1="182.6" y1="416.90000000000003" x2="186.6" y2="416.90000000000003" stroke="#1a1a1a" stroke-width="1.1" />
<text x="180.2" y="420.16600000000005" font-size="9.2" text-anchor="end" font-weight="normal" fill="#111" stroke="#111" stroke-width="0.12" >1</text>
<line x1="182.6" y1="388.6" x2="186.6" y2="388.6" stroke="#1a1a1a" stroke-width="1.1" />
<text x="180.2" y="391.86600000000004" font-size="9.2" text-anchor="end" font-weight="normal" fill="#111" stroke="#111" stroke-width="0.12" >1.5</text>
<line x1="185.85" y1="473.5" x2="245" y2="473.5" stroke="#1a1a1a" stroke-width="1.45" />
<line x1="202.7" y1="473.5" x2="202.7" y2="477.0" stroke="#1a1a1a" stroke-width="1.1" />
<line x1="228.8" y1="473.5" x2="228.8" y2="477.0" stroke="#1a1a1a" stroke-width="1.1" />
<rect x="195.79999999999998" y="417.466" width="13.8" height="55.334" fill="#DD8D1C"/>
<line x1="202.7" y1="417.466" x2="202.7" y2="410.108" stroke="#DD8D1C" stroke-width="1.2" />
<line x1="197.7" y1="410.108" x2="207.7" y2="410.108" stroke="#DD8D1C" stroke-width="1.2" />
<rect x="222.05" y="441.238" width="13.5" height="31.562000000000012" fill="#A5002E"/>
<line x1="228.8" y1="441.238" x2="228.8" y2="436.144" stroke="#A5002E" stroke-width="1.2" />
<line x1="223.8" y1="436.144" x2="233.8" y2="436.144" stroke="#A5002E" stroke-width="1.2" />
<path d="M203.1,395.90000000000003 V394.1 H228.7 V395.90000000000003" fill="none" stroke="#111" stroke-width="1.1"/>
<text x="215.89999999999998" y="393.2" font-size="8" text-anchor="middle" font-weight="normal" fill="#111" stroke="#111" stroke-width="0.12" >**</text>
<text x="202.7" y="487.6" font-size="8.6" text-anchor="middle" font-weight="normal" fill="#111" stroke="#111" stroke-width="0.12" >0</text>
<text x="228.8" y="487.6" font-size="8.6" text-anchor="middle" font-weight="normal" fill="#111" stroke="#111" stroke-width="0.12" >10</text>
<text transform="translate(162.1,429.95) rotate(-90)" x="0" y="0" font-size="10.6" text-anchor="middle" textLength="75.5" lengthAdjust="spacingAndGlyphs" fill="#111" stroke="#111" stroke-width="0.25">Myc relative mRNA level</text>
</svg>
</body></html>
